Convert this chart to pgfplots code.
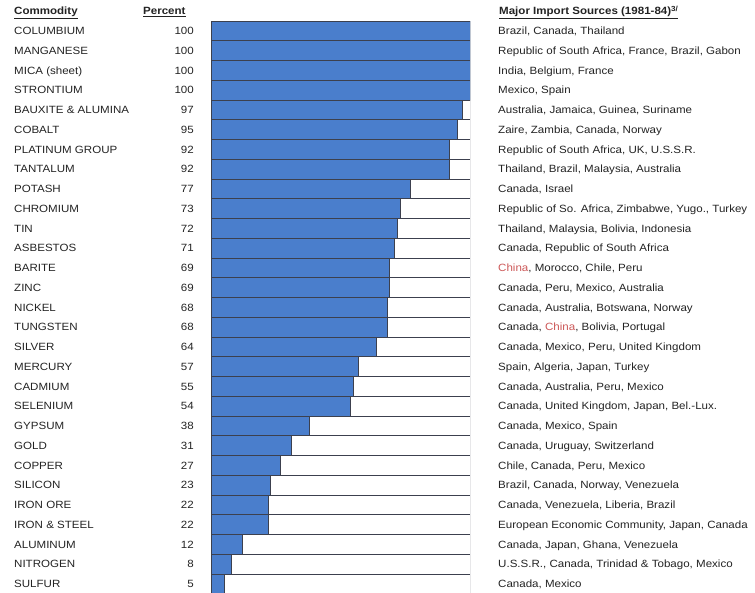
\documentclass[border=0pt]{standalone}
\usepackage{pgfplots}
\pgfplotsset{compat=1.18}
\usepackage{pgfplotstable}
\usepackage{fontspec}
\setmainfont{Liberation Sans}[FakeStretch=1.1]

\definecolor{barblue}{RGB}{74,126,204}
\definecolor{edge}{RGB}{60,64,78}
\definecolor{chinared}{RGB}{204,88,88}
\definecolor{txt}{RGB}{35,35,35}

% import reliance (percent of consumption), 1981-84
\pgfplotstableread[col sep=semicolon, row sep=\\]{
row;full;pct;name;src\\
1;100;100;COLUMBIUM;Brazil, Canada, Thailand\\
2;100;100;MANGANESE;Republic of South Africa, France, Brazil, Gabon\\
3;100;100;MICA (sheet);India, Belgium, France\\
4;100;100;STRONTIUM;Mexico, Spain\\
5;100;97;BAUXITE \& ALUMINA;Australia, Jamaica, Guinea, Suriname\\
6;100;95;COBALT;Zaire, Zambia, Canada, Norway\\
7;100;92;PLATINUM GROUP;Republic of South Africa, UK, U.S.S.R.\\
8;100;92;TANTALUM;Thailand, Brazil, Malaysia, Australia\\
9;100;77;POTASH;Canada, Israel\\
10;100;73;CHROMIUM;Republic of So. Africa, Zimbabwe, Yugo., Turkey\\
11;100;72;TIN;Thailand, Malaysia, Bolivia, Indonesia\\
12;100;71;ASBESTOS;Canada, Republic of South Africa\\
13;100;69;BARITE;{\textcolor{chinared}{China}, Morocco, Chile, Peru}\\
14;100;69;ZINC;Canada, Peru, Mexico, Australia\\
15;100;68;NICKEL;Canada, Australia, Botswana, Norway\\
16;100;68;TUNGSTEN;{Canada, \textcolor{chinared}{China}, Bolivia, Portugal}\\
17;100;64;SILVER;Canada, Mexico, Peru, United Kingdom\\
18;100;57;MERCURY;Spain, Algeria, Japan, Turkey\\
19;100;55;CADMIUM;Canada, Australia, Peru, Mexico\\
20;100;54;SELENIUM;Canada, United Kingdom, Japan, Bel.-Lux.\\
21;100;38;GYPSUM;Canada, Mexico, Spain\\
22;100;31;GOLD;Canada, Uruguay, Switzerland\\
23;100;27;COPPER;Chile, Canada, Peru, Mexico\\
24;100;23;SILICON;Brazil, Canada, Norway, Venezuela\\
25;100;22;IRON ORE;Canada, Venezuela, Liberia, Brazil\\
26;100;22;IRON \& STEEL;European Economic Community, Japan, Canada\\
27;100;12;ALUMINUM;Canada, Japan, Ghana, Venezuela\\
28;100;8;NITROGEN;U.S.S.R., Canada, Trinidad \& Tobago, Mexico\\
29;100;5;SULFUR;Canada, Mexico\\
}\imports

\pgfplotsset{
  rows/.style={
    scale only axis, width=259pt, height=572.75pt,
    at={(211pt,571pt)}, anchor=north west,
    xmin=0, xmax=100, ymin=0.5, ymax=29.5, y dir=reverse,
    xtick=\empty, ytick={1,...,29}, major tick length=0pt,
    axis line style={draw=none},
    tick label style={font=\fontsize{10.5}{12.6}\selectfont, text=txt, inner sep=0pt},
  },
}

\begin{document}
\begin{tikzpicture}[x=1pt, y=1pt, font=\fontsize{10.5}{12.6}\selectfont]
\path[use as bounding box] (0,0) rectangle (755,592);

\begin{axis}[rows,
    xbar, bar width=19.75pt, bar shift=0pt,
    yticklabels from table={\imports}{name},
    yticklabel style={anchor=base west, xshift=-197pt, yshift=-3.8pt}]
  \addplot[fill=white, draw=edge, line width=0.9pt] table[x=full, y=row]{\imports};
  \addplot[fill=barblue, draw=edge, line width=0.9pt] table[x=pct, y=row]{\imports};
\end{axis}

\begin{axis}[rows,
    yticklabels from table={\imports}{pct},
    yticklabel style={anchor=base east, xshift=-17pt, yshift=-3.8pt}]
\end{axis}

\begin{axis}[rows, yticklabel pos=right,
    yticklabels from table={\imports}{src},
    yticklabel style={anchor=base west, xshift=28pt, yshift=-3.8pt}]
\end{axis}

\node[anchor=base west, inner sep=0pt, text=txt, font=\fontsize{10.5}{12.6}\selectfont\bfseries] at (14,577) {\underline{Commodity}};
\node[anchor=base west, inner sep=0pt, text=txt, font=\fontsize{10.5}{12.6}\selectfont\bfseries] at (143,577) {\underline{Percent}};
\node[anchor=base west, inner sep=0pt, text=txt, font=\fontsize{10.5}{12.6}\selectfont\bfseries] at (499,577) {\underline{Major Import Sources (1981-84)\textsuperscript{3/}}};
\end{tikzpicture}
\end{document}
